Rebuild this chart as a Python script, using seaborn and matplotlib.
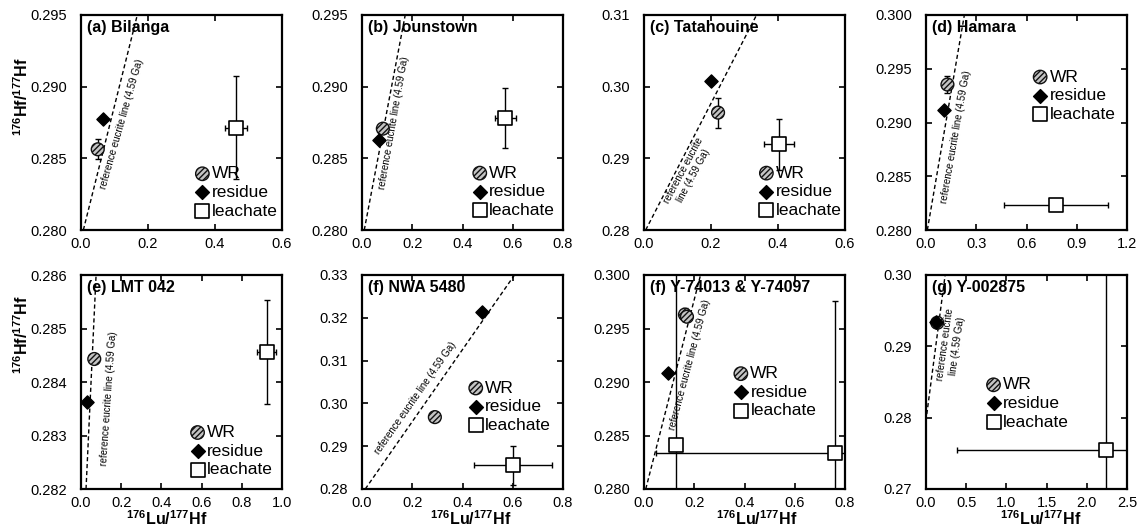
import numpy as np
import matplotlib
matplotlib.use("Agg")
import matplotlib.pyplot as plt
import seaborn as sns
from matplotlib.ticker import FormatStrFormatter

# ---------------- data ----------------
titles = ["(a) Bilanga", "(b) Jounstown", "(c) Tatahouine", "(d) Hamara",
          "(e) LMT 042", "(f) NWA 5480", "(f) Y-74013 & Y-74097", "(g) Y-002875"]

x_max = [0.6, 0.8, 0.6, 1.2, 1.0, 0.8, 0.8, 2.5]
x_step = [0.2, 0.2, 0.2, 0.3, 0.2, 0.2, 0.2, 0.5]
y_min = [0.280, 0.280, 0.28, 0.280, 0.282, 0.28, 0.280, 0.27]
y_max = [0.295, 0.295, 0.31, 0.300, 0.286, 0.33, 0.300, 0.30]
y_step = [0.005, 0.005, 0.01, 0.005, 0.001, 0.01, 0.005, 0.01]
y_dec = [3, 3, 2, 3, 3, 2, 3, 2]

wr_x = [[0.050], [0.083], [0.221], [0.128], [0.066], [0.290], [0.163, 0.171], [0.140]]
wr_y = [[0.28563], [0.28707], [0.29638], [0.29353], [0.28443], [0.29680], [0.29630, 0.29610], [0.29330]]
wr_yerr = [[0.0007], [0.0003], [0.0021], [0.0008], [0.00005], [0.0003], [0.0006, 0.0004], [0.0003]]

res_x = [[0.067], [0.069], [0.201], [0.108], [0.032], [0.478], [0.096], [0.130]]
res_y = [[0.28774], [0.28625], [0.30081], [0.29114], [0.28362], [0.32145], [0.29082], [0.29340]]

lea_x = [[0.463], [0.571], [0.404], [0.777], [0.925], [0.600], [0.126, 0.760], [2.245]]
lea_y = [[0.28714], [0.28784], [0.29194], [0.28236], [0.28456], [0.28552], [0.28414, 0.28336], [0.27541]]
lea_xerr = [[0.033], [0.040], [0.045], [0.309], [0.047], [0.155], [0.005, 0.711], [1.856]]
lea_yerr = [[0.0036], [0.0021], [0.0036], [0.0001], [0.00097], [0.0046], [0.030, 0.0142], [0.030]]

# reference eucrite line (4.59 Ga) end points as read in each panel
ref_x0 = [0.007, 0.009, 0.005, 0.008, 0.025, 0.013, 0.007, 0.010]
ref_y0 = [0.280, 0.280, 0.280, 0.280, 0.282, 0.280, 0.280, 0.2805]
ref_x1 = [0.168, 0.172, 0.336, 0.229, 0.075, 0.607, 0.225, 0.238]
ref_y1 = [0.295, 0.295, 0.310, 0.300, 0.286, 0.330, 0.300, 0.300]
ref_text = ["reference eucrite line (4.59 Ga)"] * 8
ref_text[2] = "reference eucrite\nline (4.59 Ga)"
ref_text[7] = "reference eucrite\nline (4.59 Ga)"

legend_labels = ["WR", "residue", "leachate"]
ylabel = r"$\mathbf{^{176}}$Hf/$\mathbf{^{177}}$Hf"
xlabel = r"$\mathbf{^{176}}$Lu/$\mathbf{^{177}}$Hf"

# ---------------- layout ----------------
ref_pos = [(0.2025, 0.493, 74), (0.159, 0.496, 80), (0.220, 0.264, 62), (0.149, 0.434, 80),
           (0.139, 0.424, 86), (0.264, 0.424, 55), (0.229, 0.579, 75), (0.124, 0.673, 82)]
leg_pos = [(0.60, 0.175), (0.582, 0.178), (0.605, 0.178), (0.564, 0.625),
           (0.576, 0.177), (0.562, 0.385), (0.478, 0.452), (0.332, 0.40)]
xlab_pos = [None, None, None, None, 0.428, 0.541, 0.561, 0.569]

sns.set_style("ticks")
plt.rcParams["font.family"] = ["Liberation Sans", "DejaVu Sans"]
plt.rcParams["mathtext.fontset"] = "custom"
plt.rcParams["mathtext.rm"] = "Liberation Sans"
plt.rcParams["mathtext.bf"] = "Liberation Sans:bold"
plt.rcParams["hatch.linewidth"] = 1.0
plt.rcParams["hatch.color"] = "#222222"
plt.rcParams["text.color"] = "black"
plt.rcParams["axes.labelcolor"] = "black"
plt.rcParams["xtick.color"] = "black"
plt.rcParams["ytick.color"] = "black"

W, H = 1140, 531
fig = plt.figure(figsize=(W / 100, H / 100), dpi=100)
col_left = [81, 362, 644, 926]
row_top = [15, 275]
ax_w = 201
ax_h = [215, 214]

for i in range(8):
    r, c = divmod(i, 4)
    ax = fig.add_axes([col_left[c] / W, 1 - (row_top[r] + ax_h[r]) / H, ax_w / W, ax_h[r] / H])

    # reference line
    ax.plot([ref_x0[i], ref_x1[i]], [ref_y0[i], ref_y1[i]], color="k", lw=1.0,
            ls=(0, (3, 2)), zorder=1)
    tx, ty, rot = ref_pos[i]
    ax.text(tx, ty, ref_text[i], transform=ax.transAxes, rotation=rot,
            rotation_mode="anchor", ha="center", va="center", fontsize=7,
            multialignment="center", zorder=1, color="black")

    # error bars
    ax.errorbar(wr_x[i], wr_y[i], yerr=wr_yerr[i], fmt="none", ecolor="k",
                elinewidth=1.0, capsize=2.5, capthick=1.0, zorder=2)
    ax.errorbar(lea_x[i], lea_y[i], xerr=lea_xerr[i], yerr=lea_yerr[i], fmt="none",
                ecolor="k", elinewidth=1.0, capsize=2.5, capthick=1.0, zorder=2)

    # points
    sns.scatterplot(x=wr_x[i], y=wr_y[i], ax=ax, marker="o", s=85, color="#c4c4c4",
                    edgecolor="#111111", linewidth=1.0, hatch="//////", zorder=3)
    h_wr = ax.collections[-1]
    sns.scatterplot(x=res_x[i], y=res_y[i], ax=ax, marker="D", s=45, color="black",
                    edgecolor="black", linewidth=1.0, zorder=4)
    h_res = ax.collections[-1]
    sns.scatterplot(x=lea_x[i], y=lea_y[i], ax=ax, marker="s", s=90, color="white",
                    edgecolor="black", linewidth=1.2, zorder=3)
    h_lea = ax.collections[-1]

    ax.set_xlim(0, x_max[i])
    ax.set_ylim(y_min[i], y_max[i])
    ax.set_xticks(np.arange(0, x_max[i] + 1e-9, x_step[i]))
    ax.set_yticks(np.arange(y_min[i], y_max[i] + 1e-9, y_step[i]))
    ax.xaxis.set_major_formatter(FormatStrFormatter("%.1f"))
    ax.yaxis.set_major_formatter(FormatStrFormatter("%%.%df" % y_dec[i]))
    ax.tick_params(direction="in", length=4, width=1.2, top=True, right=True,
                   labelsize=10.5, color="black", labelcolor="black")
    ax.tick_params(axis="y", pad=10)
    ax.tick_params(axis="x", pad=5)
    for sp in ax.spines.values():
        sp.set_linewidth(1.6)
        sp.set_color("black")
        sp.set_visible(True)

    ax.text(0.03, 0.975, titles[i], transform=ax.transAxes, ha="left", va="top",
            fontsize=11.5, fontweight="bold", zorder=5, color="black")

    lx, ly = leg_pos[i]
    leg = ax.legend([h_wr, h_res, h_lea], legend_labels, loc="center left",
                    bbox_to_anchor=(lx - 0.035, ly), frameon=False, fontsize=12.5,
                    handlelength=0.9, handletextpad=0.1, labelspacing=0.2,
                    borderpad=0, borderaxespad=0, scatterpoints=1, markerscale=1.05,
                    labelcolor="black")

    if c == 0:
        ax.set_ylabel(ylabel, fontsize=11.5, fontweight="bold", color="black")
        ax.yaxis.set_label_coords(-0.25, 0.62 if r == 0 else 0.72)
    else:
        ax.set_ylabel("")
    if r == 1:
        ax.set_xlabel(xlabel, fontsize=11.5, fontweight="bold", color="black")
        ax.xaxis.set_label_coords(xlab_pos[i], -0.095)
    else:
        ax.set_xlabel("")

fig.savefig("out.png", dpi=100)
